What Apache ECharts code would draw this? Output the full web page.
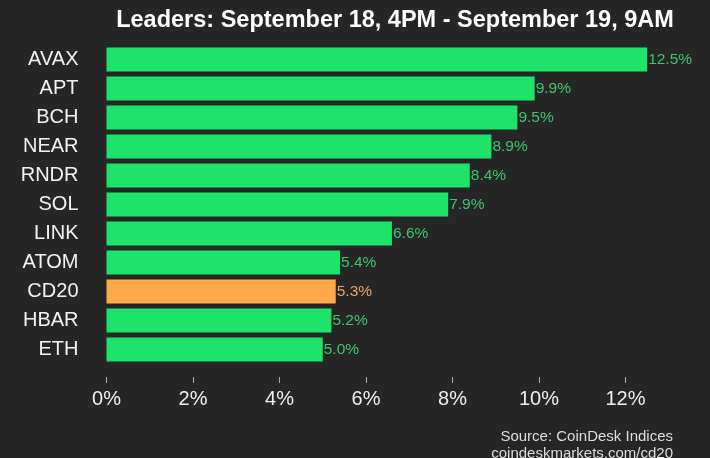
<!DOCTYPE html>
<html><head><meta charset="utf-8">
<script src="https://cdn.jsdelivr.net/npm/echarts@6/dist/echarts.min.js"></script>
<style>html,body{margin:0;padding:0;background:#262626;}#c{width:710px;height:458px;}</style>
</head><body><div id="c"></div>
<script>
const categories = ["AVAX","APT","BCH","NEAR","RNDR","SOL","LINK","ATOM","CD20","HBAR","ETH"];
const values = [12.5,9.9,9.5,8.9,8.4,7.9,6.6,5.4,5.3,5.2,5.0];
const highlight = "CD20";
const tickValues = [0,2,4,6,8,10,12];
const titleText = "Leaders: September 18, 4PM - September 19, 9AM";
const sourceLines = ["Source: CoinDesk Indices","coindeskmarkets.com/cd20"];

const GREEN = "#1ee36b", ORANGE = "#ffa94a";
const chart = echarts.init(document.getElementById('c'), null, {renderer:'canvas'});
chart.setOption({
  backgroundColor: "#262626",
  animation: false,
  title: {
    text: titleText, left: 390, textAlign: 'center', top: 4,
    textStyle: {color:'#ffffff', fontFamily:'Liberation Sans Narrow, Arial Narrow, Liberation Sans', fontWeight:'bold', fontSize:23.5}
  },
  graphic: [
    {type:'text', right: 37, top: 429, style:{text: sourceLines[0], fill:'#dddddd', font:'15px Liberation Sans, Arial', textAlign:'right'}},
    {type:'text', right: 37, top: 446, style:{text: sourceLines[1], fill:'#dddddd', font:'15px Liberation Sans, Arial', textAlign:'right'}}
  ],
  grid: {left: 106.5, width: 519, top: 45, height: 319},
  xAxis: {
    type:'value', min:0, max:12, interval:2,
    offset: 13,
    splitLine:{show:false},
    axisLine:{show:false},
    axisTick:{show:true, length:6, lineStyle:{color:'#aaaaaa', width:1}},
    axisLabel:{color:'#eeeeee', fontSize:20, margin:12, fontFamily:'Liberation Sans, Arial', formatter: v => v + '%',
      customValues: tickValues},
  },
  yAxis: {
    type:'category', data: categories, inverse:true,
    axisLine:{show:false}, axisTick:{show:false},
    axisLabel:{color:'#f2f2f2', fontSize:20, margin:28, fontFamily:'Liberation Sans, Arial'}
  },
  series: [{
    type:'bar', clip:false, barCategoryGap:'17%',
    data: values.map((v,i) => ({
      value: v,
      itemStyle:{color: categories[i]===highlight ? ORANGE : GREEN},
      label:{color: categories[i]===highlight ? '#e8a468' : '#3ec46e'}
    })),
    label:{show:true, position:'right', distance:1, fontSize:15.5, fontFamily:'Liberation Sans, Arial',
      formatter: p => p.value.toFixed(1) + '%'}
  }]
});
</script></body></html>
